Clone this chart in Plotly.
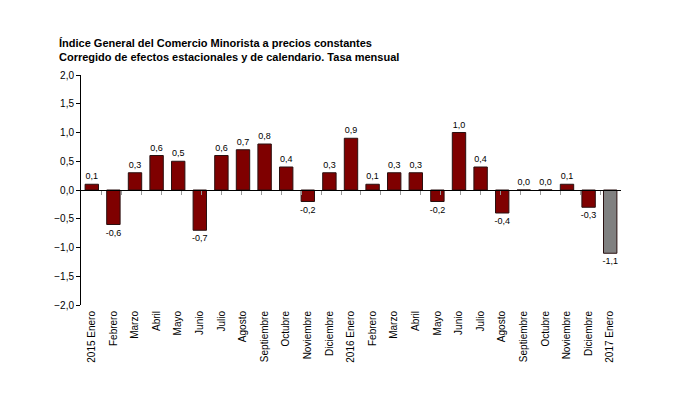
import plotly.graph_objects as go

# Periodos (claves únicas) y etiquetas del eje
periods = ['2015-01', '2015-02', '2015-03', '2015-04', '2015-05', '2015-06',
           '2015-07', '2015-08', '2015-09', '2015-10', '2015-11', '2015-12',
           '2016-01', '2016-02', '2016-03', '2016-04', '2016-05', '2016-06',
           '2016-07', '2016-08', '2016-09', '2016-10', '2016-11', '2016-12',
           '2017-01']
labels = ['2015 Enero', 'Febrero', 'Marzo', 'Abril', 'Mayo', 'Junio',
          'Julio', 'Agosto', 'Septiembre', 'Octubre', 'Noviembre', 'Diciembre',
          '2016 Enero', 'Febrero', 'Marzo', 'Abril', 'Mayo', 'Junio',
          'Julio', 'Agosto', 'Septiembre', 'Octubre', 'Noviembre', 'Diciembre',
          '2017 Enero']

# Tasa mensual (%)
values = [0.1, -0.6, 0.3, 0.6, 0.5, -0.7, 0.6, 0.7, 0.8, 0.4, -0.2, 0.3,
          0.9, 0.1, 0.3, 0.3, -0.2, 1.0, 0.4, -0.4, 0.0, 0.0, 0.1, -0.3,
          -1.1]

colors = ['#7f0000'] * (len(values) - 1) + ['#808080']

fig = go.Figure()

fig.add_trace(go.Bar(
    x=periods, y=values,
    marker=dict(color=colors, line=dict(color='#2a1010', width=1)),
    texttemplate='%{y:.1f}', textposition='outside', constraintext='none',
    textfont=dict(size=9, color='#000000'),
    cliponaxis=False, hoverinfo='skip',
))

# trazo invisible para el eje de categorías sobre la línea del cero
fig.add_trace(go.Scatter(
    x=periods, y=values, xaxis='x2', mode='markers',
    marker=dict(opacity=0), hoverinfo='skip', showlegend=False,
))

# la página añade 8 px de margen al cuerpo: se descuentan aquí
fig.update_layout(
    width=687, height=413,
    margin=dict(l=73, r=74, t=67, b=116),
    plot_bgcolor='white', paper_bgcolor='white',
    font=dict(family='Liberation Sans, Arial, sans-serif', size=10, color='#000000'),
    separators=',.',
    showlegend=False,
    bargap=0.38,
    xaxis=dict(
        type='category', tickmode='array', tickvals=periods, ticktext=labels,
        tickangle=-90, showline=False, showgrid=False, ticks='',
        ticklabelstandoff=3, tickfont=dict(size=10),
    ),
    xaxis2=dict(
        type='category', overlaying='x', anchor='free', position=0.5,
        side='bottom', showline=True, linecolor='#000000', linewidth=1,
        ticks='outside', tickson='boundaries', ticklen=4, tickcolor='#999999',
        showticklabels=False, showgrid=False,
    ),
    yaxis=dict(
        range=[-2, 2], dtick=0.5, tickformat='.1f',
        showline=True, linecolor='#000000', linewidth=1,
        ticks='outside', ticklen=4, tickcolor='#000000',
        showgrid=False, zeroline=False, tickfont=dict(size=10),
    ),
    annotations=[dict(
        text='<b>Índice General del Comercio Minorista a precios constantes<br>'
             'Corregido de efectos estacionales y de calendario. Tasa mensual</b>',
        xref='paper', yref='paper', x=-0.045, y=1.0, yshift=40,
        xanchor='left', yanchor='top', align='left', showarrow=False,
        font=dict(size=11, color='#000000'),
    )],
)

fig.write_html('out.html')
